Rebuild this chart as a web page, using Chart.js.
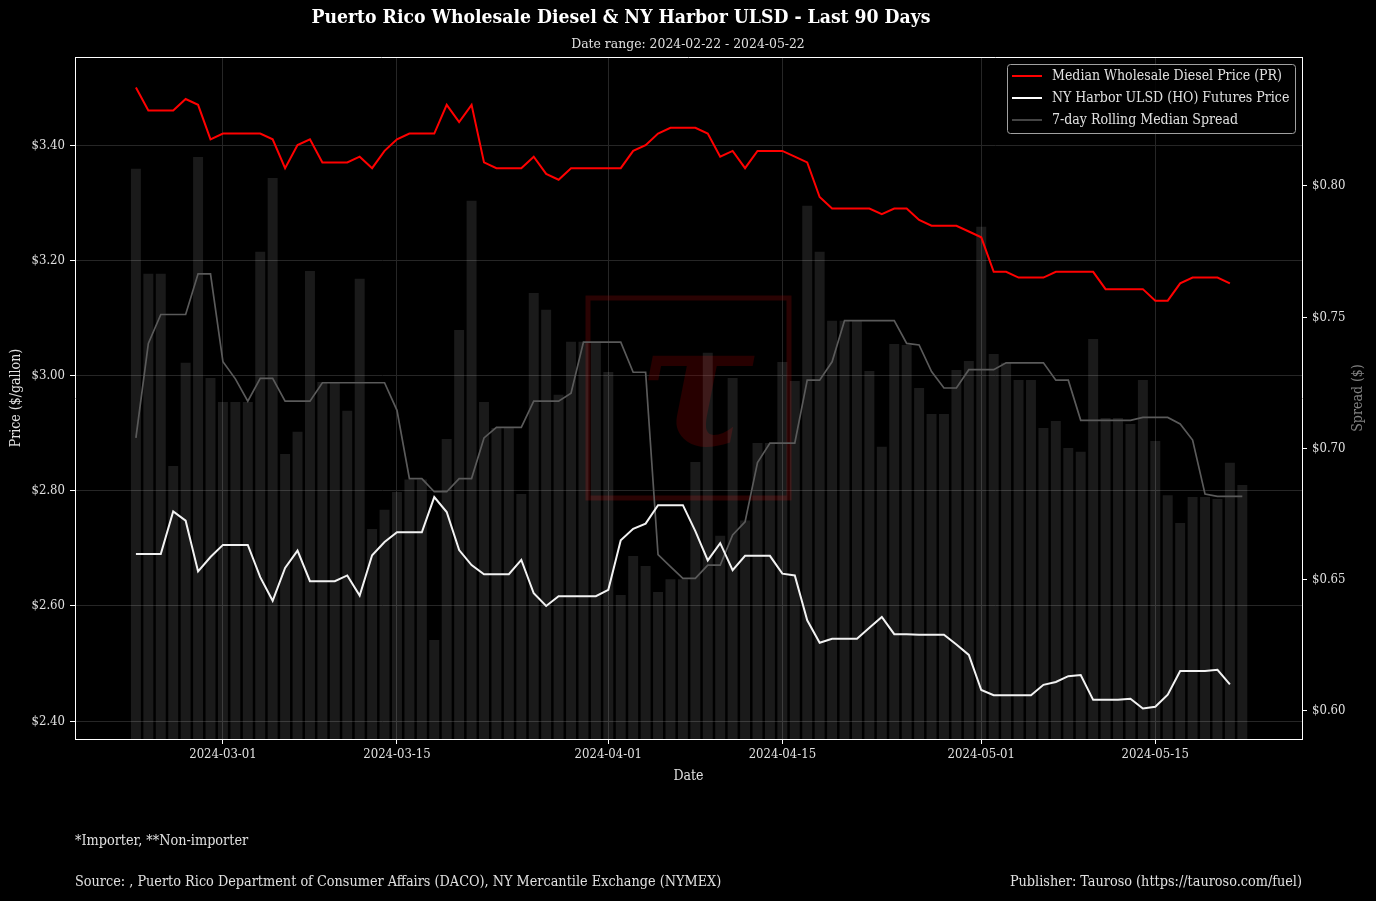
<!DOCTYPE html>
<html>
<head>
<meta charset="utf-8">
<title>Puerto Rico Wholesale Diesel & NY Harbor ULSD</title>
<script src="https://cdn.jsdelivr.net/npm/chart.js@4.4.1/dist/chart.umd.min.js"></script>
<style>
  html, body { margin: 0; padding: 0; background: #000; }
  #wrap { width: 1376px; height: 901px; }
</style>
</head>
<body>
<div id="wrap"><canvas id="chart" width="1376" height="901"></canvas></div>
<script>
// ---- data ----
const startDate = '2024-02-23';
const dayCount = 90;

// median wholesale diesel price in PR, 2024-02-23 .. 2024-05-21
const prDiesel = [
  3.50, 3.46, 3.46, 3.46, 3.48, 3.47, 3.41, 3.42, 3.42, 3.42,
  3.42, 3.41, 3.36, 3.40, 3.41, 3.37, 3.37, 3.37, 3.38, 3.36,
  3.39, 3.41, 3.42, 3.42, 3.42, 3.47, 3.44, 3.47, 3.37, 3.36,
  3.36, 3.36, 3.38, 3.35, 3.34, 3.36, 3.36, 3.36, 3.36, 3.36,
  3.39, 3.40, 3.42, 3.43, 3.43, 3.43, 3.42, 3.38, 3.39, 3.36,
  3.39, 3.39, 3.39, 3.38, 3.37, 3.31, 3.29, 3.29, 3.29, 3.29,
  3.28, 3.29, 3.29, 3.27, 3.26, 3.26, 3.26, 3.25, 3.24, 3.18,
  3.18, 3.17, 3.17, 3.17, 3.18, 3.18, 3.18, 3.18, 3.15, 3.15,
  3.15, 3.15, 3.13, 3.13, 3.16, 3.17, 3.17, 3.17, 3.16
];

// NY Harbor ULSD (HO) futures, 2024-02-23 .. 2024-05-21
const hoFutures = [
  2.690, 2.690, 2.690, 2.764, 2.748, 2.660, 2.685, 2.706, 2.706, 2.706,
  2.650, 2.609, 2.666, 2.696, 2.643, 2.643, 2.643, 2.653, 2.618, 2.688,
  2.711, 2.728, 2.728, 2.728, 2.789, 2.763, 2.697, 2.671, 2.655, 2.655,
  2.655, 2.680, 2.622, 2.600, 2.617, 2.617, 2.617, 2.617, 2.628, 2.714,
  2.734, 2.743, 2.775, 2.775, 2.775, 2.730, 2.679, 2.709, 2.662, 2.687,
  2.687, 2.687, 2.656, 2.653, 2.575, 2.536, 2.543, 2.543, 2.543, 2.562,
  2.581, 2.551, 2.551, 2.550, 2.550, 2.550, 2.533, 2.515, 2.454, 2.445,
  2.445, 2.445, 2.445, 2.463, 2.468, 2.478, 2.480, 2.437, 2.437, 2.437,
  2.439, 2.422, 2.425, 2.446, 2.487, 2.487, 2.487, 2.489, 2.464
];

// daily spread (bars), 2024-02-23 .. 2024-05-22
const spreadDaily = [
  0.8065, 0.7665, 0.7665, 0.6933, 0.7326, 0.8110, 0.7268, 0.7177, 0.7177, 0.7177,
  0.7749, 0.8030, 0.6979, 0.7063, 0.7676, 0.7253, 0.7253, 0.7143, 0.7646, 0.6693,
  0.6766, 0.6834, 0.6882, 0.6882, 0.6270, 0.7036, 0.7451, 0.7943, 0.7177, 0.7078,
  0.7078, 0.6826, 0.7592, 0.7528, 0.7204, 0.7406, 0.7406, 0.7406, 0.7291, 0.6442,
  0.6590, 0.6552, 0.6453, 0.6502, 0.6502, 0.6948, 0.7364, 0.6667, 0.7268, 0.6725,
  0.7021, 0.7021, 0.7329, 0.7257, 0.7924, 0.7749, 0.7486, 0.7486, 0.7486, 0.7295,
  0.7006, 0.7398, 0.7394, 0.7230, 0.7131, 0.7131, 0.7299, 0.7333, 0.7844, 0.7360,
  0.7326, 0.7261, 0.7261, 0.7078, 0.7104, 0.7002, 0.6987, 0.7417, 0.7116, 0.7116,
  0.7093, 0.7261, 0.7028, 0.6822, 0.6716, 0.6815, 0.6815, 0.6807, 0.6945, 0.6861
];

// 7-day rolling median spread, 2024-02-23 .. 2024-05-22
const spreadMedian7 = [
  0.7040, 0.7400, 0.7510, 0.7510, 0.7510, 0.7665, 0.7665, 0.7330, 0.7265, 0.7180,
  0.7267, 0.7267, 0.7180, 0.7180, 0.7180, 0.7250, 0.7250, 0.7250, 0.7250, 0.7250,
  0.7250, 0.7145, 0.6885, 0.6885, 0.6835, 0.6835, 0.6885, 0.6885, 0.7040, 0.7080,
  0.7080, 0.7080, 0.7180, 0.7180, 0.7180, 0.7210, 0.7405, 0.7405, 0.7405, 0.7405,
  0.7290, 0.7290, 0.6595, 0.6550, 0.6505, 0.6505, 0.6555, 0.6555, 0.6670, 0.6720,
  0.6946, 0.7020, 0.7020, 0.7020, 0.7260, 0.7260, 0.7330, 0.7487, 0.7487, 0.7487,
  0.7487, 0.7487, 0.7400, 0.7394, 0.7293, 0.7230, 0.7230, 0.7300, 0.7300, 0.7300,
  0.7326, 0.7326, 0.7326, 0.7326, 0.7260, 0.7260, 0.7107, 0.7107, 0.7107, 0.7107,
  0.7107, 0.7118, 0.7118, 0.7118, 0.7093, 0.7032, 0.6826, 0.6817, 0.6817, 0.6817
];

const xTickLabels = ['2024-03-01', '2024-03-15', '2024-04-01', '2024-04-15', '2024-05-01', '2024-05-15'];
const priceTicks = [2.40, 2.60, 2.80, 3.00, 3.20, 3.40];
const spreadTicks = [0.60, 0.65, 0.70, 0.75, 0.80];

const seriesLabels = [
  'Median Wholesale Diesel Price (PR)',
  'NY Harbor ULSD (HO) Futures Price',
  '7-day Rolling Median Spread'
];

// ---- helpers ----
const DAY = 86400000;
const t0 = Date.parse(startDate + 'T00:00:00Z');
const dayOf = s => (Date.parse(s + 'T00:00:00Z') - t0) / DAY;

const dates = [];
for (let i = 0; i < dayCount; i++) {
  dates.push(new Date(t0 + i * DAY).toISOString().slice(0, 10));
}
const pts = vals => vals.map((v, i) => ({ x: dayOf(dates[i]), y: v }));
const xTickDays = xTickLabels.map(dayOf);

const FONT = "'DejaVu Serif Condensed', 'DejaVu Serif', serif";
const TEXT = '#e0e0e0';
const GRID = '#262626';
const RED = '#ff0000';
const WHITE = '#f2f2f2';
const GREY = '#5a5a5a';

// titles, legend, frame, watermark, footnotes
const decorations = {
  id: 'decorations',
  beforeDatasetsDraw(chart) {
    const ctx = chart.ctx;
    ctx.save();
    ctx.strokeStyle = 'rgba(140, 10, 10, 0.3)';
    ctx.lineWidth = 5;
    ctx.strokeRect(588, 298, 201, 200);
    // tau glyph fitted into its box
    ctx.fillStyle = 'rgba(130, 0, 0, 0.3)';
    ctx.font = 'italic bold 100px DejaVu Serif';
    let m = ctx.measureText('τ');
    const size = 100 * 97 / (m.actualBoundingBoxAscent + m.actualBoundingBoxDescent);
    ctx.font = 'italic bold ' + size + 'px DejaVu Serif';
    m = ctx.measureText('τ');
    ctx.textBaseline = 'alphabetic';
    ctx.textAlign = 'left';
    ctx.fillText('τ', 648 + m.actualBoundingBoxLeft, 355 + m.actualBoundingBoxAscent);
    ctx.restore();
  },
  afterDraw(chart) {
    const ctx = chart.ctx;
    const a = chart.chartArea;
    ctx.save();

    // top spine
    ctx.strokeStyle = '#ffffff';
    ctx.lineWidth = 1;
    ctx.beginPath();
    ctx.moveTo(a.left, a.top + 0.5);
    ctx.lineTo(a.right, a.top + 0.5);
    ctx.stroke();

    ctx.textBaseline = 'middle';

    // title + subtitle
    ctx.fillStyle = '#ffffff';
    ctx.textAlign = 'center';
    ctx.font = 'bold 19.2px ' + FONT;
    ctx.fillText('Puerto Rico Wholesale Diesel & NY Harbor ULSD - Last 90 Days', 621, 18);
    ctx.font = '13.8px ' + FONT;
    ctx.fillStyle = TEXT;
    ctx.fillText('Date range: 2024-02-22 - 2024-05-22', 688, 44);

    // axis titles
    ctx.font = '14px ' + FONT;
    ctx.fillText('Date', (a.left + a.right) / 2, 776);
    const midY = (a.top + a.bottom) / 2;
    ctx.save();
    ctx.translate(16, midY);
    ctx.rotate(-Math.PI / 2);
    ctx.fillText('Price ($/gallon)', 0, 0);
    ctx.restore();
    ctx.save();
    ctx.translate(1358, midY);
    ctx.rotate(-Math.PI / 2);
    ctx.fillStyle = '#808080';
    ctx.fillText('Spread ($)', 0, 0);
    ctx.restore();

    // legend
    const lx = 1007.5, ly = 64.5, lw = 288, lh = 69;
    ctx.beginPath();
    ctx.roundRect(lx, ly, lw, lh, 3);
    ctx.fillStyle = 'rgba(0, 0, 0, 0.85)';
    ctx.fill();
    ctx.strokeStyle = '#a0a0a0';
    ctx.lineWidth = 1;
    ctx.stroke();
    const legendColors = [RED, '#ffffff', '#444444'];
    ctx.font = '14px ' + FONT;
    ctx.textAlign = 'left';
    seriesLabels.forEach((lab, k) => {
      const y = 76 + k * 22;
      ctx.strokeStyle = legendColors[k];
      ctx.lineWidth = 2;
      ctx.beginPath();
      ctx.moveTo(1012, y);
      ctx.lineTo(1042, y);
      ctx.stroke();
      ctx.fillStyle = TEXT;
      ctx.fillText(lab, 1052, y);
    });

    // footnotes
    ctx.font = '14.3px ' + FONT;
    ctx.fillStyle = TEXT;
    ctx.textAlign = 'left';
    ctx.fillText('*Importer, **Non-importer', 75, 841);
    ctx.fillText('Source: , Puerto Rico Department of Consumer Affairs (DACO), NY Mercantile Exchange (NYMEX)', 75, 882);
    ctx.textAlign = 'right';
    ctx.fillText('Publisher: Tauroso (https://tauroso.com/fuel)', 1302, 882);

    ctx.restore();
  }
};

const tickFont = { family: FONT, size: 13 };

new Chart(document.getElementById('chart'), {
  data: {
    datasets: [
      {
        type: 'line',
        label: seriesLabels[0],
        data: pts(prDiesel),
        yAxisID: 'y',
        borderColor: RED,
        borderWidth: 2,
        pointRadius: 0,
        tension: 0,
        order: 1
      },
      {
        type: 'line',
        label: seriesLabels[1],
        data: pts(hoFutures),
        yAxisID: 'y',
        borderColor: WHITE,
        borderWidth: 2,
        pointRadius: 0,
        tension: 0,
        order: 2
      },
      {
        type: 'line',
        label: seriesLabels[2],
        data: pts(spreadMedian7),
        yAxisID: 'y1',
        borderColor: GREY,
        borderWidth: 1.7,
        pointRadius: 0,
        tension: 0,
        order: 3
      },
      {
        type: 'bar',
        label: 'Daily Spread',
        data: pts(spreadDaily),
        yAxisID: 'y1',
        backgroundColor: 'rgba(255, 255, 255, 0.1)',
        borderWidth: 0,
        barPercentage: 1.0,
        categoryPercentage: 0.8,
        order: 4
      }
    ]
  },
  options: {
    responsive: false,
    animation: false,
    events: [],
    layout: { padding: { top: 57, bottom: 102, left: 0, right: 0 } },
    plugins: {
      legend: { display: false },
      tooltip: { enabled: false },
      title: { display: false }
    },
    scales: {
      x: {
        type: 'linear',
        offset: false,
        min: -4.9,
        max: 93.8,
        afterBuildTicks: s => { s.ticks = xTickDays.map(v => ({ value: v })); },
        afterFit: s => { s.height = 60; },
        ticks: {
          color: TEXT,
          font: tickFont,
          padding: 3,
          maxRotation: 0,
          autoSkip: false,
          callback: v => xTickLabels[xTickDays.indexOf(v)]
        },
        grid: { offset: false, color: GRID, tickColor: '#ffffff', tickLength: 5 },
        border: { color: '#ffffff', width: 1 }
      },
      y: {
        position: 'left',
        min: 2.369,
        max: 3.553,
        afterBuildTicks: s => { s.ticks = priceTicks.map(v => ({ value: v })); },
        afterFit: s => { s.width = 75; },
        ticks: {
          color: TEXT,
          font: tickFont,
          padding: 5,
          callback: v => '$' + v.toFixed(2)
        },
        grid: { color: GRID, tickColor: '#ffffff', tickLength: 5 },
        border: { color: '#ffffff', width: 1 }
      },
      y1: {
        position: 'right',
        min: 0.5893,
        max: 0.8491,
        afterBuildTicks: s => { s.ticks = spreadTicks.map(v => ({ value: v })); },
        afterFit: s => { s.width = 74; },
        ticks: {
          color: TEXT,
          font: tickFont,
          padding: 5,
          callback: v => '$' + v.toFixed(2)
        },
        grid: { drawOnChartArea: false, tickColor: '#ffffff', tickLength: 5 },
        border: { color: '#ffffff', width: 1 }
      }
    }
  },
  plugins: [decorations]
});
</script>
</body>
</html>
